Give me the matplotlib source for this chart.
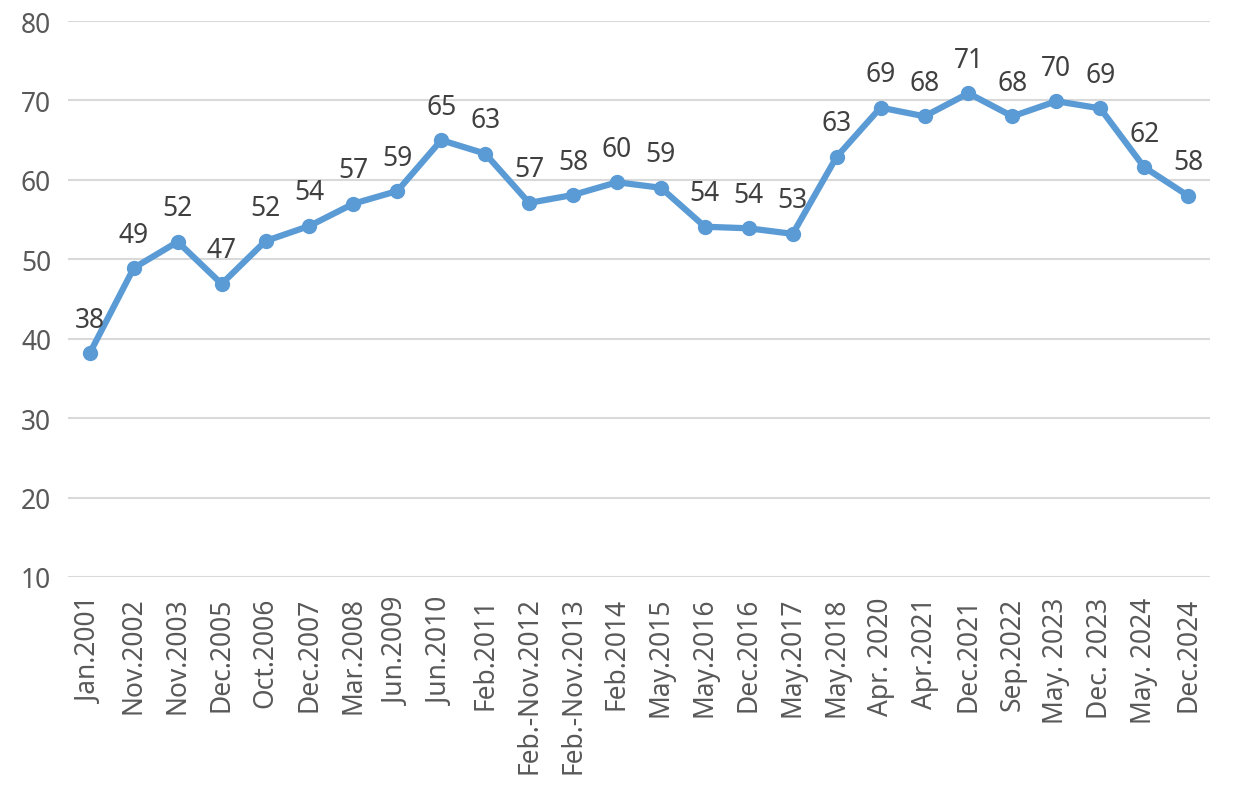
import matplotlib
matplotlib.use("Agg")
import matplotlib.pyplot as plt

plt.rcParams['font.family'] = ['Noto Sans', 'DejaVu Sans']

periods = ["Jan.2001", "Nov.2002", "Nov.2003", "Dec.2005", "Oct.2006", "Dec.2007",
           "Mar.2008", "Jun.2009", "Jun.2010", "Feb.2011", "Feb.-Nov.2012",
           "Feb.-Nov.2013", "Feb.2014", "May.2015", "May.2016", "Dec.2016",
           "May.2017", "May.2018", "Apr. 2020", "Apr.2021", "Dec.2021",
           "Sep.2022", "May. 2023", "Dec. 2023", "May. 2024", "Dec.2024"]
values = [38.2, 48.9, 52.2, 46.9, 52.3, 54.2, 57.0, 58.6, 65.0, 63.3, 57.1,
          58.1, 59.7, 59.0, 54.1, 53.9, 53.2, 62.9, 69.1, 68.0, 70.9, 68.0,
          69.9, 69.0, 61.6, 58.0]

line_color = "#5B9BD5"
text_color = "#404040"

fig = plt.figure(figsize=(12.34, 8.03), dpi=100)
ax = fig.add_axes([0.055, 0.2802, 0.9256, 0.6924])

x = list(range(len(periods)))
ax.plot(x, values, color=line_color, lw=4.5, marker='o', ms=10,
        solid_capstyle='round', zorder=3)

for xi, v in zip(x, values):
    ax.annotate(f"{v:.0f}", (xi, v), xytext=(0, 14), textcoords='offset points',
                ha='center', va='bottom', fontsize=19, color=text_color)

ax.set_xlim(-0.5, len(periods) - 0.5)
ax.set_ylim(10, 80)
ax.set_yticks(range(10, 81, 10))
ax.set_xticks(x)
ax.set_xticklabels(periods, rotation=90)
ax.tick_params(axis='both', length=0, labelsize=19, colors="#595959")
ax.tick_params(axis='y', pad=12)
ax.tick_params(axis='x', pad=14)
ax.grid(axis='y', color='#d9d9d9', lw=1.5)
ax.set_axisbelow(True)
for s in ax.spines.values():
    s.set_visible(False)

fig.savefig("out.png", dpi=100)
